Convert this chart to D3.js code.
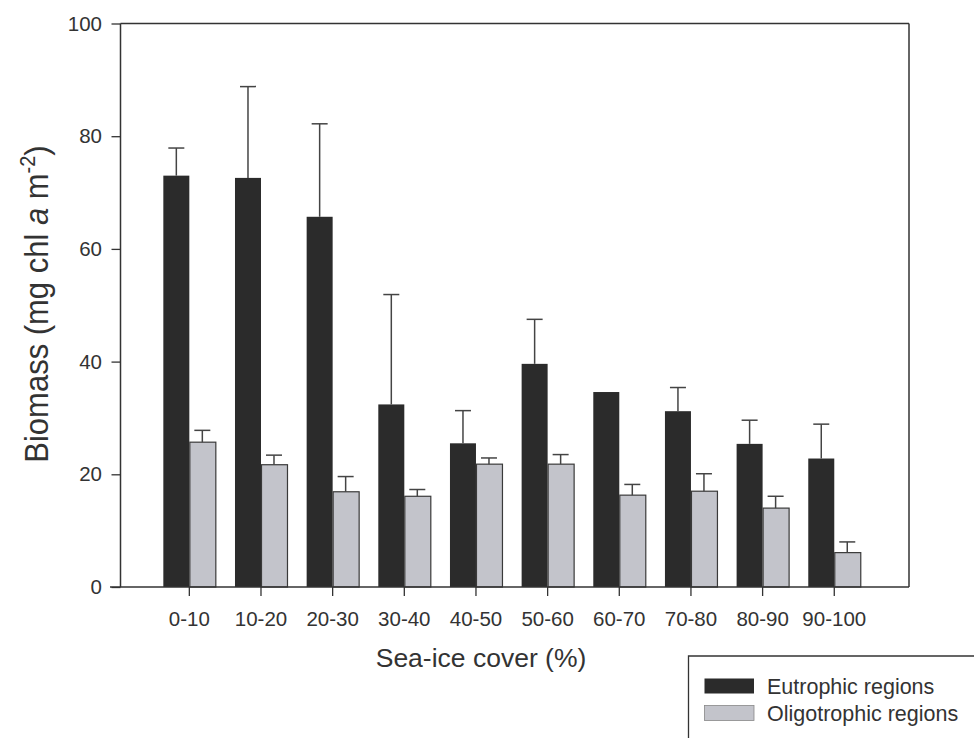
<!DOCTYPE html>
<html>
<head>
<meta charset="utf-8">
<script src="https://cdn.jsdelivr.net/npm/d3@7/dist/d3.min.js"></script>
<style>
  html, body { margin: 0; padding: 0; background: #fff; }
  svg { display: block; font-family: "Liberation Sans", Arial, sans-serif; }
</style>
</head>
<body>
<svg id="chart" width="974" height="738"></svg>
<script>
const categories = ["0-10","10-20","20-30","30-40","40-50","50-60","60-70","70-80","80-90","90-100"];
const eutrophic = [73.0, 72.6, 65.7, 32.4, 25.5, 39.6, 34.6, 31.2, 25.4, 22.8];
const eutrophicErrTop = [77.9, 88.8, 82.2, 51.9, 31.3, 47.5, null, 35.4, 29.6, 28.9];
const oligotrophic = [25.7, 21.7, 16.9, 16.1, 21.8, 21.8, 16.3, 17.0, 14.0, 6.1];
const oligotrophicErrTop = [27.8, 23.4, 19.6, 17.3, 22.9, 23.5, 18.2, 20.1, 16.1, 8.0];
const yTicks = [0, 20, 40, 60, 80, 100];
const seriesNames = ["Eutrophic regions", "Oligotrophic regions"];

(function () {
const svg = d3.select("#chart");
const pL = 120.5, pR = 909, pT = 23.5, pB = 587;
const darkCol = "#2b2b2b", grayCol = "#c3c4cb", ink = "#333";
const fontFam = "Liberation Sans, Arial, sans-serif";

const y = d3.scaleLinear().domain([0, 100]).range([pB, pT]);
const x = d3.scaleBand().domain(categories).range([153.5, 870.1]).padding(0);
const barW = 26;

// Frame (top & right)
svg.append("line").attr("x1", pL).attr("x2", pR).attr("y1", pT).attr("y2", pT)
  .attr("stroke", ink).attr("stroke-width", 1.5);
svg.append("line").attr("x1", pR).attr("x2", pR).attr("y1", pT).attr("y2", pB)
  .attr("stroke", ink).attr("stroke-width", 1.5);

// Bars
const g = svg.append("g");
categories.forEach((c, i) => {
  const cx = x(c) + x.bandwidth() / 2;
  g.append("rect").attr("x", cx - barW).attr("width", barW)
    .attr("y", y(eutrophic[i])).attr("height", y(0) - y(eutrophic[i]))
    .attr("fill", darkCol);
  g.append("rect").attr("x", cx + 0.5).attr("width", barW)
    .attr("y", y(oligotrophic[i])).attr("height", y(0) - y(oligotrophic[i]))
    .attr("fill", grayCol).attr("stroke", "#3a3a3a").attr("stroke-width", 1.2);
  const errs = [[eutrophicErrTop[i], eutrophic[i], cx - barW / 2], [oligotrophicErrTop[i], oligotrophic[i], cx + barW / 2]];
  errs.forEach(([et, v, ex]) => {
    if (et == null) return;
    g.append("line").attr("x1", ex).attr("x2", ex).attr("y1", y(v)).attr("y2", y(et))
      .attr("stroke", "#444").attr("stroke-width", 1.5);
    g.append("line").attr("x1", ex - 8).attr("x2", ex + 8).attr("y1", y(et)).attr("y2", y(et))
      .attr("stroke", "#444").attr("stroke-width", 1.5);
  });
});

// Y axis
const yAxis = d3.axisLeft(y).tickValues(yTicks).tickSize(9).tickPadding(9.5).tickFormat(d3.format("d"));
const yg = svg.append("g").attr("transform", `translate(${pL},0)`).call(yAxis);
yg.select(".domain").attr("stroke", ink).attr("stroke-width", 1.5).attr("d", `M0,${pT}V${pB}`);
yg.selectAll(".tick line").attr("stroke", ink).attr("stroke-width", 1.3);
yg.selectAll(".tick text").attr("fill", "#333").style("font-size", "20.5px").style("font-family", fontFam);

// X axis
const xAxis = d3.axisBottom(x).tickSize(9).tickPadding(15.5);
const xg = svg.append("g").attr("transform", `translate(0,${pB})`).call(xAxis);
xg.select(".domain").attr("stroke", ink).attr("stroke-width", 1.5).attr("d", `M110,0H${pR}`);
xg.selectAll(".tick line").attr("stroke", ink).attr("stroke-width", 1.3);
xg.selectAll(".tick text").attr("fill", "#333").style("font-size", "20.5px").style("font-family", fontFam);

// Axis titles
svg.append("text").attr("x", 481).attr("y", 667).attr("text-anchor", "middle")
  .attr("fill", "#333").style("font-size", "26.5px").text("Sea-ice cover (%)");

const yt = svg.append("text").attr("transform", "translate(47.5,304) scale(1.08,1) rotate(-90)")
  .attr("text-anchor", "middle").attr("fill", "#333").style("font-size", "31px");
yt.append("tspan").text("Biomass (mg chl ");
yt.append("tspan").style("font-style", "italic").text("a");
yt.append("tspan").text(" m");
yt.append("tspan").attr("dy", -12).style("font-size", "20px").text("-2");
yt.append("tspan").attr("dy", 12).text(")");

// Legend
const lg = svg.append("g");
lg.append("path").attr("d", "M688.5,738V656H974").attr("fill", "none").attr("stroke", ink).attr("stroke-width", 1.3);
const swatchCols = [darkCol, grayCol];
seriesNames.forEach((n, i) => {
  const yy = 678.5 + i * 27;
  lg.append("rect").attr("x", 704.5).attr("y", yy).attr("width", 49.5).attr("height", 15)
    .attr("fill", swatchCols[i]).attr("stroke", i ? "#888" : "none").attr("stroke-width", 0.8);
  lg.append("text").attr("x", 767).attr("y", yy + 15).attr("fill", "#333")
    .style("font-size", "21.5px").text(n);
});
})();
</script>
</body>
</html>
